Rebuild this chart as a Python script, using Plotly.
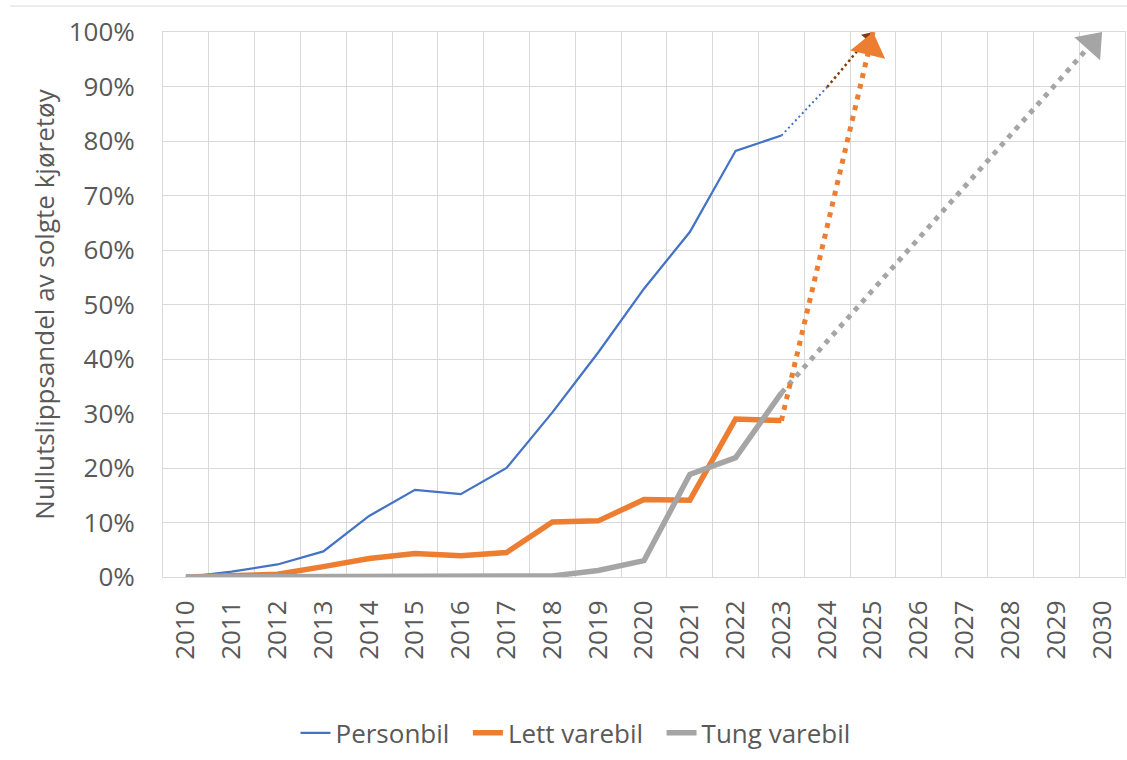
import plotly.graph_objects as go

years = [str(y) for y in range(2010, 2031)]
hist_years = [str(y) for y in range(2010, 2024)]

personbil = [0.0, 1.0, 2.3, 4.7, 11.2, 16.0, 15.2, 20.0, 30.2, 41.2, 52.9, 63.3, 78.2, 81.0]
lett_varebil = [0.0, 0.2, 0.5, 1.9, 3.4, 4.3, 3.9, 4.5, 10.1, 10.3, 14.2, 14.1, 29.0, 28.7]
tung_varebil = [0.0, 0.0, 0.0, 0.0, 0.0, 0.0, 0.0, 0.0, 0.2, 1.2, 3.0, 18.8, 21.9, 33.8]

# projections (dotted lines with arrow heads)
person_proj_x = ["2023", "2024"]
person_proj_y = [81.0, 89.9]
person_arrow_x = ["2024", "2025"]
person_arrow_y = [89.9, 100.0]
lett_proj_x = ["2023", "2025"]
lett_proj_y = [28.7, 100.0]
tung_proj_x = ["2023", "2030"]
tung_proj_y = [33.8, 100.0]

BLUE = "#4472C4"
ORANGE = "#ED7D31"
GRAY = "#A5A5A5"
BROWN = "#843C0C"
TXT = "#595959"
GRID = "#D9D9D9"
FONT = "Open Sans"
FS = 26
NB = "\u00a0\u00a0"

fig = go.Figure()

def arrow_marker(color, size):
    return dict(symbol="triangle-up", size=[0, size], color=color, angleref="previous",
                standoff=size / 2.0, opacity=1, line=dict(width=0, color=color))

# dotted projections (drawn first, below solid lines)
fig.add_trace(go.Scatter(x=tung_proj_x, y=tung_proj_y, mode="lines+markers",
                         line=dict(color=GRAY, width=5, dash="5px,6px", backoff=0),
                         marker=arrow_marker(GRAY, 30),
                         showlegend=False, cliponaxis=False, hoverinfo="skip"))
fig.add_trace(go.Scatter(x=person_proj_x, y=person_proj_y, mode="lines",
                         line=dict(color=BLUE, width=2, dash="2px,3px"),
                         showlegend=False, cliponaxis=False, hoverinfo="skip"))
fig.add_trace(go.Scatter(x=person_arrow_x, y=person_arrow_y, mode="lines+markers",
                         line=dict(color=BROWN, width=2.5, dash="2.5px,3px", backoff=0),
                         marker=arrow_marker(BROWN, 13),
                         showlegend=False, cliponaxis=False, hoverinfo="skip"))
fig.add_trace(go.Scatter(x=lett_proj_x, y=lett_proj_y, mode="lines+markers",
                         line=dict(color=ORANGE, width=5, dash="5px,6px", backoff=0),
                         marker=arrow_marker(ORANGE, 31),
                         showlegend=False, cliponaxis=False, hoverinfo="skip"))

fig.add_trace(go.Scatter(x=hist_years, y=personbil, mode="lines", name="Personbil" + NB,
                         line=dict(color=BLUE, width=2.25)))
fig.add_trace(go.Scatter(x=hist_years, y=lett_varebil, mode="lines", name="Lett varebil" + NB,
                         line=dict(color=ORANGE, width=5.5)))
fig.add_trace(go.Scatter(x=hist_years, y=tung_varebil, mode="lines", name="Tung varebil",
                         line=dict(color=GRAY, width=5.5)))

fig.update_layout(
    width=1127, height=760,
    margin=dict(l=163, r=2, t=32, b=183),
    paper_bgcolor="white", plot_bgcolor="white",
    font=dict(family=FONT, color=TXT, size=FS),
    legend=dict(orientation="h", x=0.4288, xanchor="center", y=-0.286, yanchor="middle",
                font=dict(size=FS, color=TXT), itemwidth=30, traceorder="normal"),
    xaxis=dict(type="category", categoryorder="array", categoryarray=years,
               range=[-0.5, 20.5], tickangle=-90, tickson="boundaries",
               showgrid=True, gridcolor=GRID, gridwidth=1, automargin=False,
               showline=True, linecolor=GRID, linewidth=1, mirror=True,
               ticks="", tickfont=dict(size=FS, color=TXT), ticklabelstandoff=12),
    yaxis=dict(range=[0, 100], dtick=10, ticksuffix="%", showgrid=True, gridcolor=GRID,
               gridwidth=1, zeroline=False, showline=True, linecolor=GRID, mirror=True,
               automargin=False,
               tickfont=dict(size=FS, color=TXT), ticklabelstandoff=22,
               title=dict(text="Nullutslippsandel av solgte kjøretøy", standoff=6,
                          font=dict(size=FS, color=TXT))),
    shapes=[dict(type="line", xref="paper", yref="paper", x0=-0.159, x1=1.003,
                 y0=1.0477, y1=1.0477, line=dict(color=GRID, width=1))],
)

fig.write_html("out.html", config={"displayModeBar": False},
               post_script="document.body.style.margin='0';document.body.style.overflow='hidden';")
